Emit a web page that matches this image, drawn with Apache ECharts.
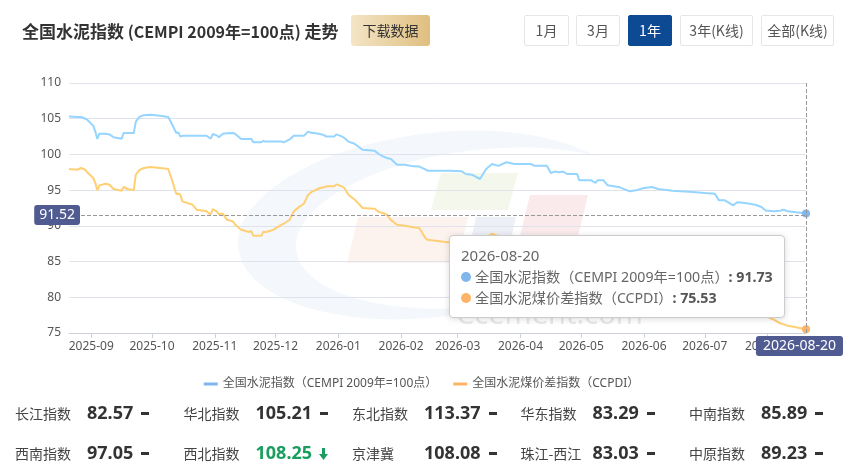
<!DOCTYPE html>
<html><head><meta charset="utf-8">
<script src="https://cdn.jsdelivr.net/npm/echarts@6/dist/echarts.min.js"></script>
<style>
body{margin:0;background:#fff;font-family:"Noto Sans CJK SC","Noto Sans",sans-serif;}
#wrap{position:relative;width:843px;height:471px;overflow:hidden;}
#chart{position:absolute;left:0;top:0;width:843px;height:471px;}
.title{position:absolute;left:22px;top:17px;height:28px;line-height:28px;font-weight:bold;color:#333;white-space:nowrap;}
.dl{position:absolute;left:351px;top:15px;width:79px;height:31px;line-height:31px;text-align:center;font-size:14px;color:#333;border-radius:3px;background:linear-gradient(90deg,#f4e5c6,#dfbf80);}
.btn{position:absolute;top:15px;height:29px;line-height:29px;text-align:center;font-size:14px;color:#555;border:1px solid #e6e6e6;border-radius:2px;background:#fff;box-sizing:content-box;}
.btn.on{background:#0e4a94;color:#fff;border-color:#0e4a94;}
.stat{position:absolute;height:26px;line-height:26px;white-space:nowrap;}
.stat .n{display:inline-block;width:72px;font-size:14px;color:#444;}
.stat .v{font-size:18px;font-weight:bold;color:#333;font-family:"Noto Sans","Noto Sans CJK SC",sans-serif;}
.stat .d{display:inline-block;margin-left:8px;width:8px;height:3px;background:#333;vertical-align:middle;position:relative;top:-1px;}
.stat .a{display:inline-block;margin-left:7px;vertical-align:middle;position:relative;top:-1px;}
.stat.down .v{color:#1a9e5f;}
</style></head>
<body><div id="wrap">
<div id="chart"></div>
<div class="title"><span style="font-size:17px">全国水泥指数</span> <span style="font-size:16px">(CEMPI 2009年=100点)</span> <span style="font-size:17px">走势</span></div>
<div class="dl">下载数据</div>
<div id="btns"></div>
<div id="stats"></div>
</div>
<script>
// ---- data ----
const dates = [
'2025-08-21','2025-08-25','2025-08-27','2025-08-29','2025-08-30','2025-09-02','2025-09-03','2025-09-04','2025-09-05','2025-09-08',
'2025-09-10','2025-09-12','2025-09-16','2025-09-17','2025-09-19','2025-09-22','2025-09-23','2025-09-25','2025-09-27','2025-09-30',
'2025-10-05','2025-10-09','2025-10-11','2025-10-13','2025-10-14','2025-10-15','2025-10-16','2025-10-21','2025-10-23','2025-10-28',
'2025-10-30','2025-10-31','2025-11-02','2025-11-03','2025-11-05','2025-11-07','2025-11-10','2025-11-11','2025-11-14','2025-11-18',
'2025-11-19','2025-11-20','2025-11-24','2025-11-25','2025-11-26','2025-11-30','2025-12-04','2025-12-05','2025-12-08','2025-12-10',
'2025-12-13','2025-12-15','2025-12-17','2025-12-19','2025-12-20','2025-12-23','2025-12-25','2025-12-26','2025-12-30','2025-12-31',
'2026-01-03','2026-01-04','2026-01-06','2026-01-09','2026-01-13','2026-01-19','2026-01-21','2026-01-23','2026-01-25','2026-01-27',
'2026-01-30','2026-02-03','2026-02-07','2026-02-10','2026-02-13','2026-02-14','2026-02-23','2026-02-25','2026-03-03','2026-03-05',
'2026-03-08','2026-03-12','2026-03-15','2026-03-18','2026-03-21','2026-03-25','2026-03-29','2026-04-06','2026-04-08','2026-04-14',
'2026-04-16','2026-04-18','2026-04-20','2026-04-22','2026-04-24','2026-04-29','2026-04-30','2026-05-06','2026-05-08','2026-05-09',
'2026-05-12','2026-05-14','2026-05-20','2026-05-25','2026-05-28','2026-06-01','2026-06-05','2026-06-08','2026-06-15','2026-06-25',
'2026-07-01','2026-07-06','2026-07-08','2026-07-11','2026-07-15','2026-07-17','2026-07-21','2026-07-26','2026-07-29','2026-07-31',
'2026-08-04','2026-08-07','2026-08-09','2026-08-11','2026-08-15','2026-08-20'];
const cempi = [
105.30,105.25,105.24,105.00,104.86,104.00,103.20,102.16,102.90,102.90,
102.80,102.40,102.20,103.00,103.00,103.00,104.60,105.30,105.50,105.56,
105.40,105.24,104.16,103.00,103.08,102.50,102.60,102.60,102.60,102.60,
102.20,102.85,102.67,102.40,102.90,102.95,103.00,102.90,102.16,102.16,
102.20,101.70,101.70,101.90,101.80,101.80,101.80,101.70,102.10,102.60,
102.60,102.60,103.20,103.00,103.00,102.85,102.70,102.50,102.50,102.80,
102.50,102.30,101.80,101.50,100.66,100.50,100.06,99.72,99.50,99.36,
98.56,98.56,98.33,98.30,97.90,97.72,97.72,97.72,97.63,97.26,
97.16,96.56,97.96,98.66,98.40,98.90,98.66,98.66,98.40,98.40,
97.40,97.60,97.50,97.60,97.26,97.26,96.37,96.37,96.00,96.37,
96.37,95.67,95.39,94.83,94.97,95.30,95.44,95.16,94.92,94.74,
94.60,94.50,93.57,93.57,92.87,93.30,93.20,92.96,92.64,92.16,
92.03,92.10,92.26,92.03,91.90,91.73];
const ccpdi = [
97.96,97.86,98.10,97.86,97.50,96.70,96.00,94.97,95.67,95.90,
95.76,95.16,94.92,95.44,95.16,95.00,97.16,97.86,98.10,98.24,
98.10,97.96,96.30,94.46,94.50,94.36,93.43,92.96,92.26,92.03,
91.56,92.36,92.00,91.66,91.70,90.86,90.63,90.20,89.46,89.13,
89.30,88.60,88.60,89.20,89.10,89.46,90.16,90.30,90.86,92.03,
92.73,93.10,94.30,94.80,94.92,95.30,95.40,95.53,95.53,95.81,
95.50,95.30,94.36,93.70,92.50,92.40,91.94,91.80,91.56,90.80,
90.16,90.02,89.80,89.70,88.30,88.06,87.74,87.70,87.90,88.00,
88.10,87.80,88.40,88.90,88.60,88.50,88.30,88.00,87.80,87.50,
86.90,86.80,86.70,86.70,86.40,86.20,85.60,85.40,85.10,85.20,
85.00,84.50,84.10,83.60,83.50,83.60,83.50,83.20,82.80,82.20,
81.60,81.20,80.40,80.00,79.30,79.20,78.70,78.20,77.70,77.40,
76.86,76.40,76.20,76.00,75.80,75.53];
const seriesNames = ['全国水泥指数（CEMPI 2009年=100点）','全国水泥煤价差指数（CCPDI）'];
const yMin = 75, yMax = 110, yStep = 5;
const pointerValue = 91.52;
const rangeButtons = ['1月','3月','1年','3年(K线)','全部(K线)'];
const activeRange = '1年';
const regionNames = ['长江指数','华北指数','东北指数','华东指数','中南指数','西南指数','西北指数','京津冀','珠江-西江','中原指数'];
const regionValues = [82.57,105.21,113.37,83.29,85.89,97.05,108.25,108.08,83.03,89.23];
const regionTrend = ['flat','flat','flat','flat','flat','flat','down','flat','flat','flat'];

// ---- header buttons ----
const btnLayout = [[524,43],[576,42],[628,42],[680,71],[761,71]];
let bh = '';
rangeButtons.forEach((b,i)=>{
  bh += '<div class="btn'+(b===activeRange?' on':'')+'" style="left:'+btnLayout[i][0]+'px;width:'+btnLayout[i][1]+'px">'+b+'</div>';
});
document.getElementById('btns').innerHTML = bh;

// ---- region stats ----
const arrowSvg = '<svg class="a" width="9" height="12" viewBox="0 0 9 12"><rect x="3" y="0" width="3" height="7" fill="#1a9e5f"/><polygon points="0,6 9,6 4.5,12" fill="#1a9e5f"/></svg>';
let sh = '';
regionNames.forEach((n,i)=>{
  const col = i%5, row = Math.floor(i/5);
  const left = 15 + col*168.5, top = 399 + row*40;
  const down = regionTrend[i]==='down';
  sh += '<div class="stat'+(down?' down':'')+'" style="left:'+left+'px;top:'+top+'px"><span class="n">'+n+'</span><span class="v">'+regionValues[i].toFixed(2)+'</span>'+(down?arrowSvg:'<span class="d"></span>')+'</div>';
});
document.getElementById('stats').innerHTML = sh;

// ---- chart ----
const chart = echarts.init(document.getElementById('chart'));
const pad = n => (n<10?'0':'')+n;
const ptrLabel = {show:true,backgroundColor:'#505b91',color:'#fff',fontSize:14,padding:[3,6,3,6],borderRadius:3};
const option = {
  animation:false,
  textStyle:{fontFamily:'"Noto Sans","Noto Sans CJK SC",sans-serif'},
  grid:{left:69,right:37,top:83,bottom:138},
  legend:{top:373,left:'center',icon:'rect',itemWidth:14,itemHeight:3,itemGap:16,
    textStyle:{color:'#555',fontSize:12},data:seriesNames},
  graphic:{elements:[
    {type:'ellipse',z:-20,silent:true,shape:{cx:435,cy:225,rx:198,ry:92},rotation:0.12,originX:435,originY:225,style:{fill:'#f4f8fc'}},
    {type:'ellipse',z:-19,silent:true,shape:{cx:480,cy:228,rx:185,ry:78},rotation:0.12,originX:480,originY:228,style:{fill:'#ffffff'}},
    {type:'polygon',z:-18,silent:true,shape:{points:[[358,217],[468,217],[457,263],[347,263]]},style:{fill:'#fcf3ee'}},
    {type:'polygon',z:-18,silent:true,shape:{points:[[441,173],[518,173],[508,210],[431,210]]},style:{fill:'#f3f7ec'}},
    {type:'polygon',z:-17,silent:true,shape:{points:[[476,217],[516,217],[506,262],[466,262]]},style:{fill:'#ecf0f6'}},
    {type:'polygon',z:-18,silent:true,shape:{points:[[530,195],[588,195],[577,240],[519,240]]},style:{fill:'#fbeaec'}},
    {type:'text',z:-16,silent:true,x:456,y:330,style:{text:'Ccement.com',fontSize:29,fontFamily:'"Noto Sans",sans-serif',fill:'#e8e8e8',textVerticalAlign:'bottom'}}
  ]},
  tooltip:{trigger:'axis',triggerOn:'none',alwaysShowContent:true,
    axisPointer:{type:'line',lineStyle:{color:'#999',type:'dashed',width:1},
      label:Object.assign({},ptrLabel,{padding:[3,7,3,7],formatter:function(p){const t=new Date(Math.round(p.value)+43200000);return t.getFullYear()+'-'+pad(t.getMonth()+1)+'-'+pad(t.getDate());}})},
    backgroundColor:'#fff',borderColor:'#ccc',borderWidth:1,padding:[9,11,9,11],
    textStyle:{color:'#666',fontSize:14.2},
    extraCssText:'box-shadow:0 1px 6px rgba(0,0,0,0.15);border-radius:4px;line-height:21px;',
    position:function(point,params,dom,rect,size){return [point[0]-size.contentSize[0]-21, point[1]+20];},
    formatter:function(ps){
      let h = '<div style="color:#666;font-size:15px">'+ps[0].value[0]+'</div>';
      ps.forEach(p=>{
        h += '<div>'+p.marker+p.seriesName+'<span style="font-weight:bold;color:#555">: '+Number(p.value[1]).toFixed(2)+'</span></div>';
      });
      return h;
    }
  },
  xAxis:{type:'time',min:dates[0],max:dates[dates.length-1],splitNumber:12,
    minInterval:28*86400000,maxInterval:31*86400000,
    axisLine:{lineStyle:{color:'#ccd1dc'}},
    axisTick:{show:true,length:5,lineStyle:{color:'#ccd1dc'}},
    axisLabel:{formatter:'{yyyy}-{MM}',color:'#555',fontSize:12,margin:8},
    splitLine:{show:false}
  },
  yAxis:{type:'value',min:yMin,max:yMax,interval:yStep,
    axisLine:{show:false},axisTick:{show:false},
    axisLabel:{color:'#555',fontSize:12,margin:8},
    splitLine:{lineStyle:{color:'#e0e3eb'}},
    axisPointer:{show:true,type:'line',triggerTooltip:false,lineStyle:{color:'#999',type:'dashed',width:1},
      label:Object.assign({},ptrLabel,{precision:2,margin:-11,padding:[3,5,3,5]})}
  },
  series:[
    {name:seriesNames[0],type:'line',data:dates.map((d,i)=>[d,cempi[i]]),showSymbol:false,symbol:'circle',symbolSize:8,
      lineStyle:{width:2,color:'#88c2f7'},itemStyle:{color:'#7fb6ec'},emphasis:{scale:false,lineStyle:{width:2}}},
    {name:seriesNames[1],type:'line',data:dates.map((d,i)=>[d,ccpdi[i]]),showSymbol:false,symbol:'circle',symbolSize:8,
      lineStyle:{width:2,color:'#fdbd6a'},itemStyle:{color:'#fdb466'},emphasis:{scale:false,lineStyle:{width:2}}}
  ]
};
chart.setOption(option);
const p = chart.convertToPixel({gridIndex:0},[dates[dates.length-1],pointerValue]);
chart.dispatchAction({type:'showTip',x:p[0],y:p[1]});
</script>
</body></html>
